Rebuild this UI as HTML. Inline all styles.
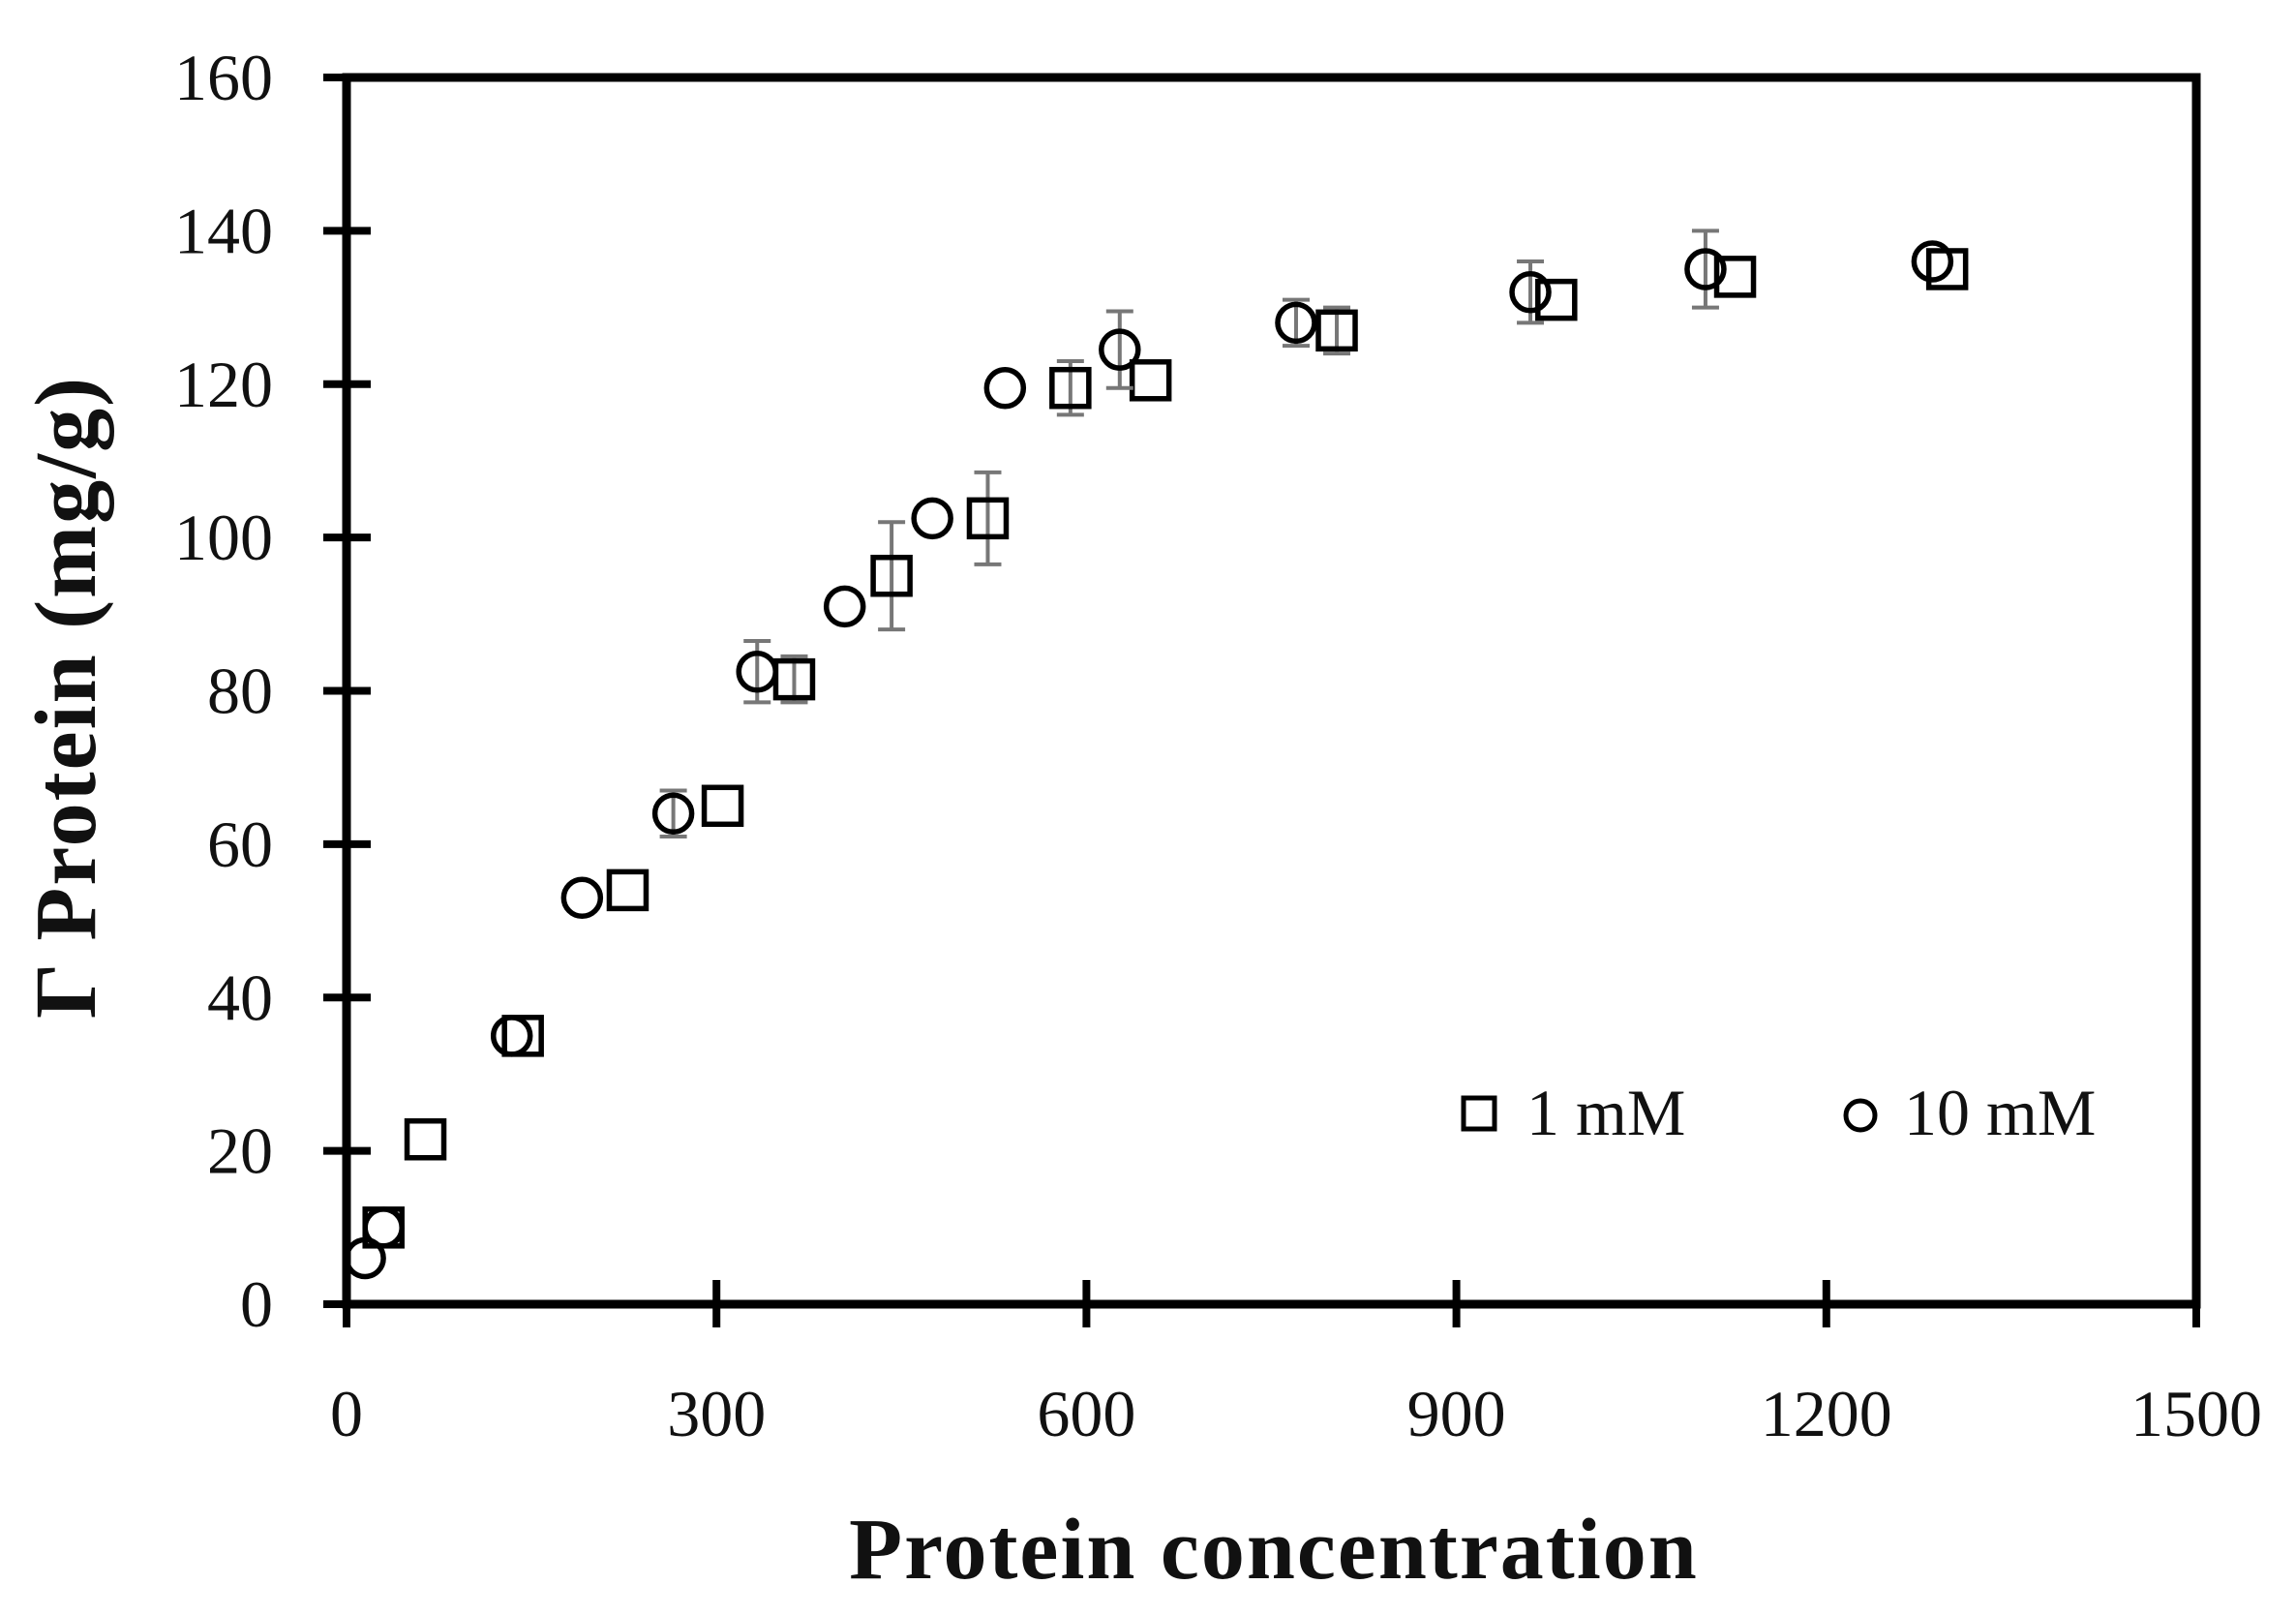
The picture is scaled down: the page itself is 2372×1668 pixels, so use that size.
<!DOCTYPE html>
<html><head><meta charset="utf-8"><style>
html,body{margin:0;padding:0;background:#fff;width:2372px;height:1668px;overflow:hidden}
svg text{font-family:"Liberation Serif",serif;fill:#111}
</style></head><body>
<svg id="s" width="2372" height="1668" xmlns="http://www.w3.org/2000/svg">
<rect x="358" y="80" width="1911" height="1267" fill="none" stroke="#000" stroke-width="9"/>
<g id="g"></g>
<text x="1316" y="1630" font-size="90" font-weight="bold" text-anchor="middle" letter-spacing="2">Protein concentration</text>
<text transform="translate(98,720) rotate(-90)" font-size="90" font-weight="bold" text-anchor="middle" letter-spacing="2">Γ Protein (mg/g)</text>
<rect x="1512" y="1134" width="32" height="32" fill="#fff" stroke="#000" stroke-width="5"/>
<text x="1577" y="1172" font-size="68">1 mM</text>
<circle cx="1922" cy="1152" r="15" fill="#fff" stroke="#000" stroke-width="5"/>
<text x="1967" y="1172" font-size="68">10 mM</text>
</svg>
<script>
var g=document.getElementById('g'),h='';
function X(v){return 358+v*1911/1500}
function Y(v){return 1347-v*1267/160}
for(var i=0;i<=160;i+=20){var y=Y(i);h+='<line x1="334" x2="383" y1="'+y+'" y2="'+y+'" stroke="#000" stroke-width="8"/>';
h+='<text x="282" y="'+(y+23)+'" font-size="68" text-anchor="end">'+i+'</text>';}
for(var i=0;i<=1500;i+=300){var x=X(i);h+='<line x1="'+x+'" x2="'+x+'" y1="1322" y2="1371" stroke="#000" stroke-width="8"/>';
h+='<text x="'+x+'" y="1483" font-size="68" text-anchor="middle">'+i+'</text>';}
var sq=[[30,10,0],[64,21.5,0],[143,35,0],[228,54,0],[305,65,0],[363,81.5,3],[442,95,7],[520,102.5,6],[587,119.5,3.5],[652,120.5,0],[803,127,3],[981,131,0],[1126,134,0],[1298,135,0]];
var ci=[[15,6,0],[30,10,0],[134,35,0],[191,53,0],[265,64,3],[333,82.5,4],[404,91,0],[475,102.5,0],[534,119.5,0],[627,124.5,5],[770,128,3],[960,132,4],[1102,135,5],[1286,136,0]];
function eb(p){if(!p[2])return'';var x=X(p[0]),a=Y(p[1]+p[2]),b=Y(p[1]-p[2]);
return '<g stroke="#777" stroke-width="4"><line x1="'+x+'" x2="'+x+'" y1="'+a+'" y2="'+b+'"/><line x1="'+(x-14)+'" x2="'+(x+14)+'" y1="'+a+'" y2="'+a+'"/><line x1="'+(x-14)+'" x2="'+(x+14)+'" y1="'+b+'" y2="'+b+'"/></g>';}
sq.forEach(function(p){h+=eb(p);h+='<rect x="'+(X(p[0])-19)+'" y="'+(Y(p[1])-19)+'" width="38" height="38" fill="none" stroke="#000" stroke-width="5.5"/>';});
ci.forEach(function(p){h+=eb(p);h+='<circle cx="'+X(p[0])+'" cy="'+Y(p[1])+'" r="19" fill="none" stroke="#000" stroke-width="5.5"/>';});
g.innerHTML=h;
</script>
</body></html>
